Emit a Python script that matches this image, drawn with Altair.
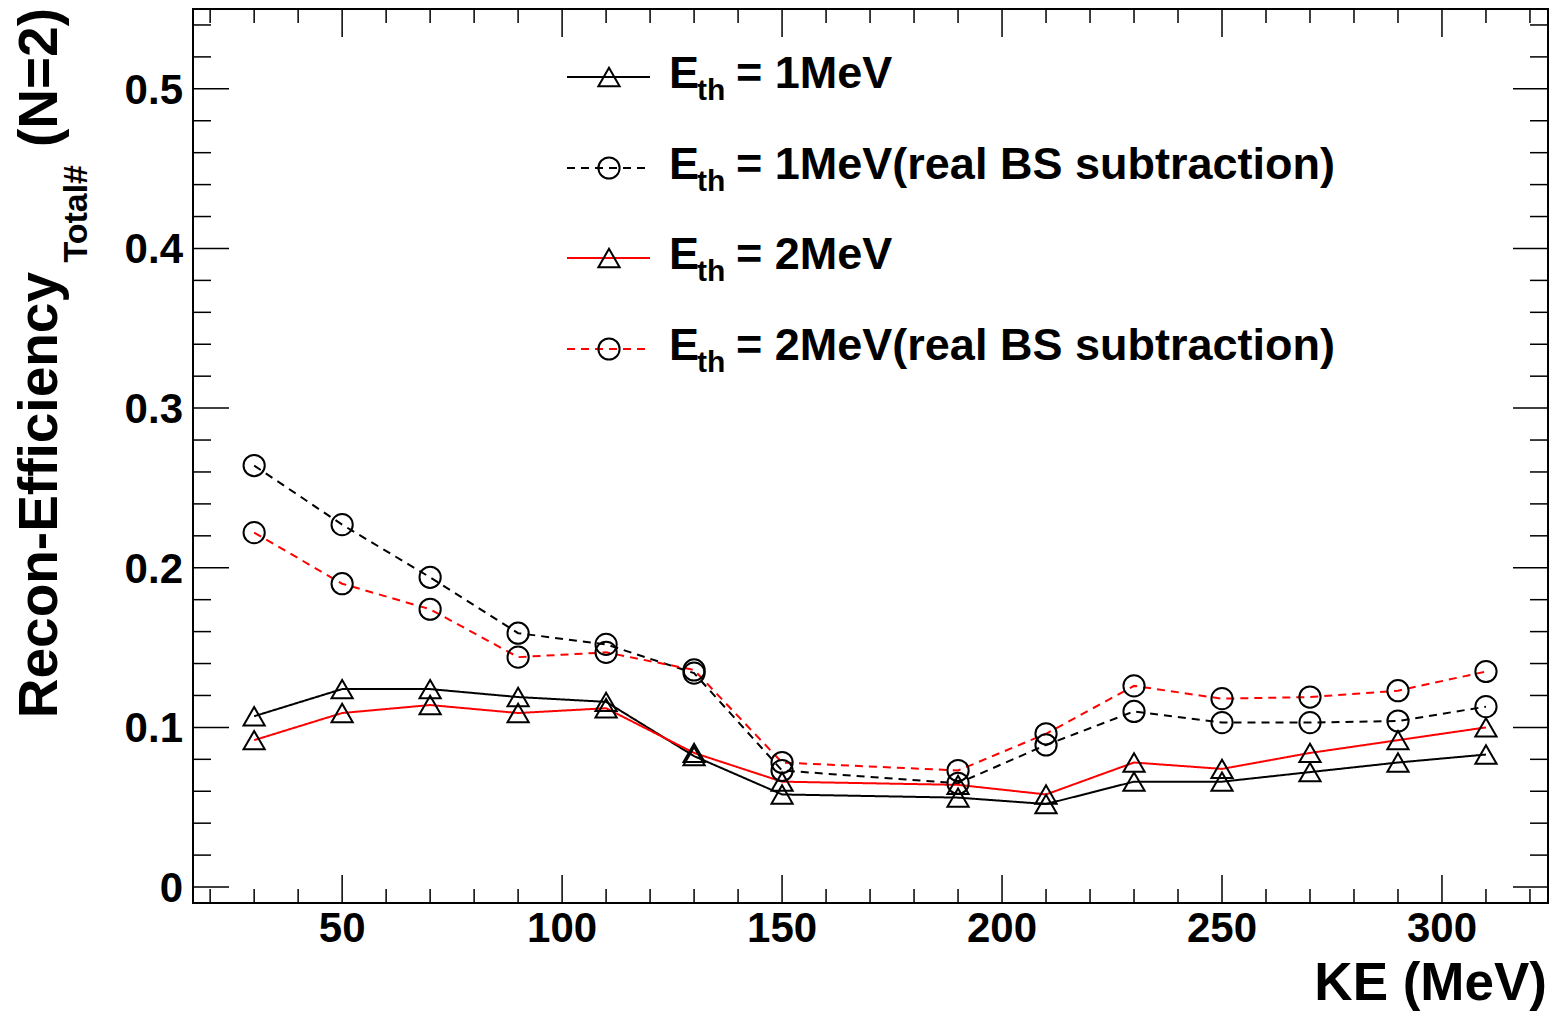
import altair as alt
import pandas as pd

# ---------------- data ----------------
ke = [30, 50, 70, 90, 110, 130, 150, 190, 210, 230, 250, 270, 290, 310]
eff_1mev = [0.107, 0.124, 0.124, 0.119, 0.116, 0.082, 0.058, 0.056, 0.052, 0.066, 0.066, 0.072, 0.078, 0.083]
eff_1mev_bs = [0.264, 0.227, 0.194, 0.159, 0.152, 0.134, 0.073, 0.065, 0.089, 0.110, 0.103, 0.103, 0.104, 0.113]
eff_2mev = [0.092, 0.109, 0.114, 0.109, 0.112, 0.084, 0.066, 0.064, 0.058, 0.078, 0.074, 0.084, 0.092, 0.100]
eff_2mev_bs = [0.222, 0.190, 0.174, 0.144, 0.147, 0.136, 0.078, 0.073, 0.096, 0.126, 0.118, 0.119, 0.123, 0.135]

series = ["1MeV", "1MeV_BS", "2MeV", "2MeV_BS"]
series_values = [eff_1mev, eff_1mev_bs, eff_2mev, eff_2mev_bs]
legend_rest = ["= 1MeV", "= 1MeV(real BS subtraction)", "= 2MeV", "= 2MeV(real BS subtraction)"]
legend_main = "E"
legend_sub = "th"

x_major = [50, 100, 150, 200, 250, 300]
x_labels = ["50", "100", "150", "200", "250", "300"]
x_minor = [v for v in range(20, 330, 10) if v % 50 != 0]
y_major = [0.0, 0.1, 0.2, 0.3, 0.4, 0.5]
y_labels = ["0", "0.1", "0.2", "0.3", "0.4", "0.5"]
y_minor = [round(0.02 * i, 2) for i in range(0, 28) if i % 5 != 0]

x_title = "KE (MeV)"
y_title_main = "Recon-Efficiency"
y_title_sub = "Total#"
y_title_end = "(N=2)"

# ---------------- styles ----------------
colors = ["black", "black", "red", "red"]
dashes = [[1, 0], [8, 6], [1, 0], [8, 6]]
shapes = ["triangle-up", "circle", "triangle-up", "circle"]
FONT = "Liberation Sans"
W, H = 1355, 894

rows = []
for s, vals in zip(series, series_values):
    for k, v in zip(ke, vals):
        rows.append({"KE": k, "eff": v, "series": s})
df = pd.DataFrame(rows)

x_scale = alt.Scale(domain=[16.1, 324.1], nice=False, zero=False)
y_scale = alt.Scale(domain=[-0.01, 0.55], nice=False, zero=False)

X = alt.X("KE:Q", scale=x_scale, axis=None)
Y = alt.Y("eff:Q", scale=y_scale, axis=None)

lines = alt.Chart(df).mark_line(strokeWidth=2).encode(
    x=X, y=Y,
    color=alt.Color("series:N", scale=alt.Scale(domain=series, range=colors), legend=None),
    strokeDash=alt.StrokeDash("series:N", scale=alt.Scale(domain=series, range=dashes), legend=None),
)
points = alt.Chart(df).mark_point(filled=False, stroke="black", strokeWidth=2, size=450, opacity=1).encode(
    x=X, y=Y,
    shape=alt.Shape("series:N", scale=alt.Scale(domain=series, range=shapes), legend=None),
)

layers = [lines, points]

# ---------------- inward ticks (ROOT style) ----------------
def yticks(vals, x0, x1):
    return alt.Chart(pd.DataFrame({"v": vals})).mark_rule(color="black", strokeWidth=1.5).encode(
        y=alt.Y("v:Q", scale=y_scale, axis=None), x=alt.value(x0), x2=alt.value(x1))

def xticks(vals, y0, y1):
    return alt.Chart(pd.DataFrame({"v": vals})).mark_rule(color="black", strokeWidth=1.5).encode(
        x=alt.X("v:Q", scale=x_scale, axis=None), y=alt.value(y0), y2=alt.value(y1))

layers += [
    yticks(y_major, 0, 36), yticks(y_minor, 0, 18),
    yticks(y_major, W, W - 35), yticks(y_minor, W, W - 18),
    xticks(x_major, H, H - 28), xticks(x_minor, H, H - 14),
    xticks(x_major, 0, 28), xticks(x_minor, 0, 14),
]

# ---------------- tick labels ----------------
layers.append(
    alt.Chart(pd.DataFrame({"v": x_major, "lab": x_labels})).mark_text(
        font=FONT, fontWeight="bold", fontSize=42, align="center", baseline="alphabetic", color="black"
    ).encode(x=alt.X("v:Q", scale=x_scale, axis=None), y=alt.value(933), text="lab:N")
)
layers.append(
    alt.Chart(pd.DataFrame({"v": y_major, "lab": y_labels})).mark_text(
        font=FONT, fontWeight="bold", fontSize=42, align="right", baseline="alphabetic", dy=15, color="black"
    ).encode(y=alt.Y("v:Q", scale=y_scale, axis=None), x=alt.value(-10), text="lab:N")
)

# ---------------- titles ----------------
def text(t, x, y, size, align="left", angle=0, baseline="alphabetic"):
    return alt.Chart(pd.DataFrame({"t": [t]})).mark_text(
        font=FONT, fontWeight="bold", fontSize=size, align=align, baseline=baseline,
        angle=angle, color="black").encode(text="t:N", x=alt.value(x), y=alt.value(y))

layers += [
    text(x_title, W - 1, 991, 53, align="right"),
    text(y_title_main, -136, 263, 55, align="right", angle=270),
    text(y_title_sub, -106, 156, 34, align="right", angle=270),
    text(y_title_end, -136, -1, 55, align="right", angle=270),
]

# ---------------- legend ----------------
row_y = [68, 159, 249, 340]
for i, s in enumerate(series):
    ry = row_y[i]
    one = pd.DataFrame({"s": [s]})
    layers.append(alt.Chart(one).mark_rule(color=colors[i], strokeWidth=2, strokeDash=dashes[i]).encode(
        x=alt.value(374), x2=alt.value(457), y=alt.value(ry)))
    layers.append(alt.Chart(one).mark_point(shape=shapes[i], filled=False, stroke="black",
                                            strokeWidth=2, size=450, opacity=1).encode(
        x=alt.value(416), y=alt.value(ry)))
    layers.append(text(legend_main, 476, ry + 11, 45))
    layers.append(text(legend_sub, 504, ry + 23, 30))
    layers.append(text(legend_rest[i], 543, ry + 11, 45))

chart = alt.layer(*layers).properties(
    width=W, height=H,
    padding={"left": 185, "top": 1, "right": 3, "bottom": 108},
    autosize="none",
).configure_view(stroke="black", strokeWidth=2)

chart.save("out.html", embed_options={"renderer": "svg", "actions": False})
